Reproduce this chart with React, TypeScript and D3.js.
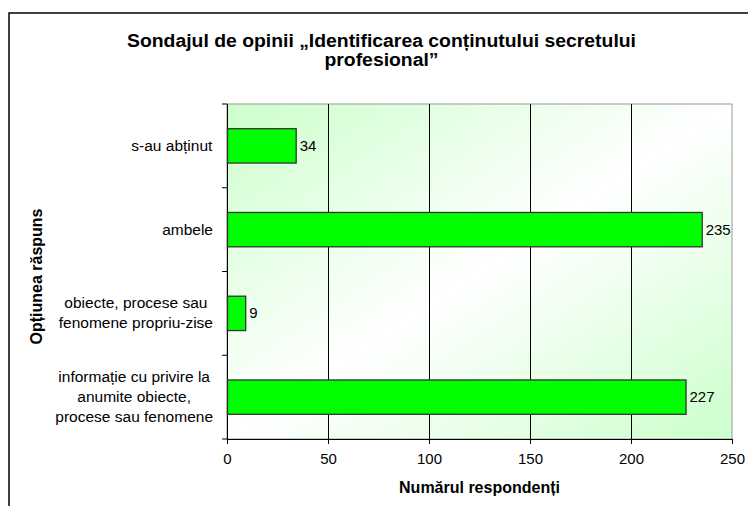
import React, { useEffect, useRef } from "react";
import * as d3 from "d3";

// categories listed top to bottom as in the chart
const categories = [
  ["s-au abținut"],
  ["ambele"],
  ["obiecte, procese sau", "fenomene propriu-zise"],
  ["informație cu privire la", "anumite obiecte,", "procese sau fenomene"],
];
const values = [34, 235, 9, 227];
const xTicks = [0, 50, 100, 150, 200, 250];
const titleLines = ["Sondajul de opinii „Identificarea conținutului secretului", "profesional”"];
const titleWidths = [509, 114];
const xTitle = "Numărul respondenți";
const yTitle = "Opțiunea răspuns";

const W = 748;
const H = 506;
const margin = { top: 104, right: 16, bottom: 67, left: 227 };
const FONT = "Arial, 'Liberation Sans', sans-serif";

export default function App() {
  const ref = useRef<SVGSVGElement>(null);

  useEffect(() => {
    const svg = d3.select(ref.current);
    svg.selectAll("*").remove();

    const width = W - margin.left - margin.right;
    const height = H - margin.top - margin.bottom;

    const x = d3.scaleLinear().domain([0, 250]).range([0, width]);
    const y = d3
      .scaleBand<number>()
      .domain(d3.range(categories.length))
      .range([0, height])
      .padding(0);
    const barH = y.bandwidth() * 0.41;

    // gradient background
    const defs = svg.append("defs");
    const grad = defs
      .append("linearGradient")
      .attr("id", "bg")
      .attr("x1", "0")
      .attr("y1", "0")
      .attr("x2", "1")
      .attr("y2", "1");
    grad.append("stop").attr("offset", "0").attr("stop-color", "#ccffcc");
    grad.append("stop").attr("offset", "0.5").attr("stop-color", "#ffffff");
    grad.append("stop").attr("offset", "1").attr("stop-color", "#ccffcc");

    // outer frame (cut by the picture edge)
    svg
      .append("path")
      .attr("d", `M9,${H} L9,13 L${W},13`)
      .attr("fill", "none")
      .attr("stroke", "#000")
      .attr("stroke-width", 1.5);

    const g = svg.append("g").attr("transform", `translate(${margin.left},${margin.top})`);

    g.append("rect")
      .attr("width", width)
      .attr("height", height)
      .attr("fill", "url(#bg)")
      .attr("stroke", "#999")
      .attr("stroke-width", 1);

    // vertical grid
    g.append("g")
      .selectAll("line")
      .data(xTicks.slice(1, -1))
      .join("line")
      .attr("x1", (d) => x(d) + 0.5)
      .attr("x2", (d) => x(d) + 0.5)
      .attr("y1", 0)
      .attr("y2", height)
      .attr("stroke", "#000");

    // x axis
    const xAxis = g
      .append("g")
      .attr("transform", `translate(0,${height})`)
      .call(d3.axisBottom(x).tickValues(xTicks).tickSize(5).tickPadding(9).tickSizeOuter(0));
    xAxis.selectAll("line").attr("stroke", "#000");
    xAxis.select(".domain").attr("stroke", "#000");
    xAxis.selectAll("text").attr("font-size", 15).attr("font-family", FONT).attr("fill", "#000");

    // y axis (ticks between categories)
    const yAxis = g.append("g");
    yAxis
      .append("line")
      .attr("x1", 0.5)
      .attr("x2", 0.5)
      .attr("y1", 0)
      .attr("y2", height + 5)
      .attr("stroke", "#000");
    yAxis
      .selectAll("line.tick")
      .data(d3.range(categories.length + 1))
      .join("line")
      .attr("class", "tick")
      .attr("x1", -5)
      .attr("x2", 0)
      .attr("y1", (i) => (i < categories.length ? y(i)! : height))
      .attr("y2", (i) => (i < categories.length ? y(i)! : height))
      .attr("stroke", "#000");

    // bars
    g.append("g")
      .selectAll("rect")
      .data(values)
      .join("rect")
      .attr("x", x(0) + 0.5)
      .attr("y", (d, i) => y(i)! + (y.bandwidth() - barH) / 2)
      .attr("width", (d) => x(d))
      .attr("height", barH)
      .attr("fill", "#00ff00")
      .attr("stroke", "#333")
      .attr("stroke-width", 1.3);

    // value labels
    g.append("g")
      .selectAll("text")
      .data(values)
      .join("text")
      .attr("x", (d) => x(d) + 4)
      .attr("y", (d, i) => y(i)! + y.bandwidth() / 2 + 5)
      .attr("font-size", 15)
      .attr("font-family", FONT)
      .text((d) => d);

    // category labels, centered lines, right edge at the axis
    categories.forEach((lines, i) => {
      const lg = g.append("g");
      const lh = 20;
      const cy = y(i)! + y.bandwidth() / 2;
      lines.forEach((l, j) => {
        lg.append("text")
          .attr("x", 0)
          .attr("y", cy + (j - (lines.length - 1) / 2) * lh + 5)
          .attr("text-anchor", "middle")
          .attr("font-size", 15.5)
          .attr("font-family", FONT)
          .text(l);
      });
      const bb = (lg.node() as SVGGElement).getBBox();
      lg.attr("transform", `translate(${-14 - (bb.x + bb.width)},0)`);
    });

    // title
    svg
      .append("g")
      .selectAll("text")
      .data(titleLines)
      .join("text")
      .attr("x", 381.5)
      .attr("y", (d, i) => 47 + i * 18.5)
      .attr("text-anchor", "middle")
      .attr("font-size", 17.5)
      .attr("font-weight", "bold")
      .attr("font-family", FONT)
      .attr("textLength", (d, i) => titleWidths[i])
      .attr("lengthAdjust", "spacingAndGlyphs")
      .text((d) => d);

    // axis titles
    svg
      .append("text")
      .attr("x", margin.left + width / 2)
      .attr("y", 493)
      .attr("text-anchor", "middle")
      .attr("font-size", 16)
      .attr("font-weight", "bold")
      .attr("font-family", FONT)
      .text(xTitle);

    svg
      .append("text")
      .attr("transform", `translate(42,276.5) rotate(-90)`)
      .attr("text-anchor", "middle")
      .attr("font-size", 16)
      .attr("font-weight", "bold")
      .attr("font-family", FONT)
      .text(yTitle);
  }, []);

  return (
    <svg
      ref={ref}
      width={W}
      height={H}
      style={{ position: "absolute", left: 0, top: 0, background: "#fff" }}
    />
  );
}
